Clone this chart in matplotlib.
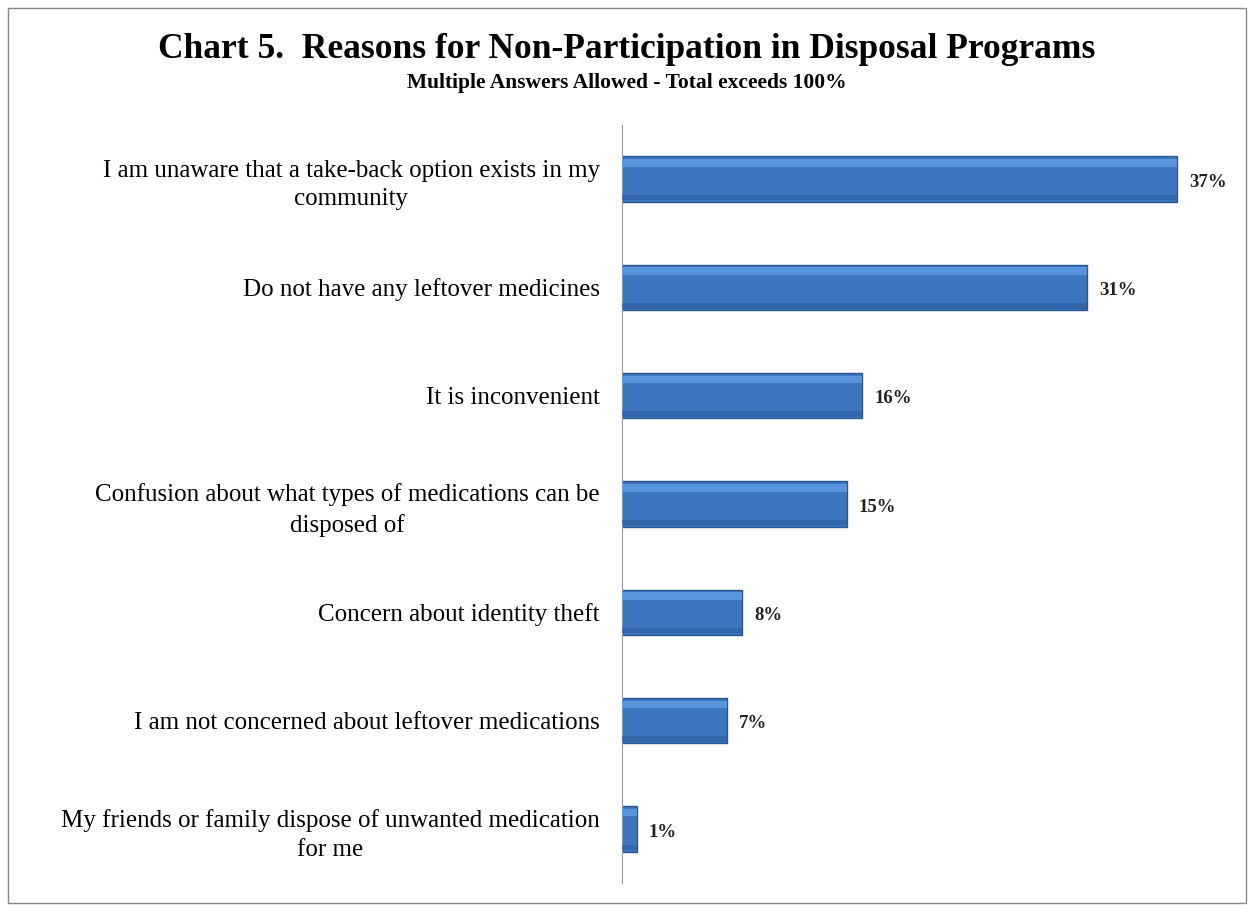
import matplotlib
matplotlib.use('Agg')
import matplotlib.pyplot as plt
from matplotlib.patches import Rectangle

reasons = ['I am unaware that a take-back option exists in my\ncommunity',
           'Do not have any leftover medicines',
           'It is inconvenient',
           'Confusion about what types of medications can be\ndisposed of',
           'Concern about identity theft',
           'I am not concerned about leftover medications',
           'My friends or family dispose of unwanted medication\nfor me']
pct = [37, 31, 16, 15, 8, 7, 1]

plt.rcParams['font.family'] = ['Liberation Serif', 'DejaVu Serif']

fig = plt.figure(figsize=(12.54, 9.11), dpi=100)
ax = fig.add_axes([622/1254, 1 - 883/911, 600/1254, 758/911])

ypos = list(range(len(pct)))
# main bar plus a light top band and darker bottom band for the bevel look
ax.barh(ypos, pct, height=0.42, color='#3b76bf', edgecolor='#2b5790', linewidth=1.0, zorder=2)
ax.barh([y - 0.15 for y in ypos], pct, height=0.07, color='#62a0e6', linewidth=0, zorder=3, alpha=0.75)
ax.barh([y + 0.17 for y in ypos], pct, height=0.05, color='#2d5f9f', linewidth=0, zorder=3, alpha=0.6)

for y, v in zip(ypos, pct):
    ax.text(v + 0.8, y + 0.03, '%d%%' % v, va='center', ha='left', fontsize=13.5, fontweight='bold', color='#222222')

ax.set_yticks(ypos)
ax.set_yticklabels(reasons, fontsize=18, ha='right', multialignment='center')
for t in ax.get_yticklabels():
    t.set_linespacing(1.4)
ax.tick_params(axis='y', length=0, pad=16)
ax.set_xticks([])
ax.set_xlim(0, 40)
ax.set_ylim(len(pct) - 0.5, -0.5)
for side in ['top', 'right', 'bottom']:
    ax.spines[side].set_visible(False)
ax.spines['left'].set_color('#999999')

fig.text(0.5, 1 - 49/911, 'Chart 5.  Reasons for Non-Participation in Disposal Programs',
         ha='center', va='center', fontsize=25.5, fontweight='bold')
fig.text(0.5, 1 - 83/911, 'Multiple Answers Allowed - Total exceeds 100%',
         ha='center', va='center', fontsize=15.5, fontweight='bold')

fig.patches.append(Rectangle((8/1254, 8/911), 1238/1254, 895/911, transform=fig.transFigure,
                             fill=False, edgecolor='#888888', linewidth=1))

fig.savefig('out.png', dpi=100)
